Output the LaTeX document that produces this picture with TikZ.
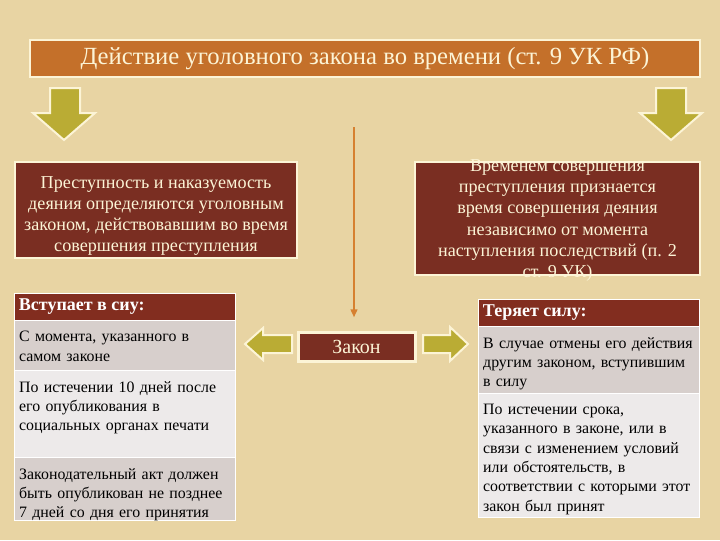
\documentclass[tikz,border=0pt]{standalone}
\usepackage{fontspec}
\setmainfont{Liberation Serif}
\usetikzlibrary{positioning,arrows.meta}

\definecolor{parchment}{RGB}{232,212,163}
\definecolor{titleorange}{RGB}{196,112,42}
\definecolor{darkred}{RGB}{122,46,34}
\definecolor{headred}{RGB}{130,45,31}
\definecolor{rowdark}{RGB}{215,207,204}
\definecolor{rowlight}{RGB}{237,234,234}
\definecolor{olive}{RGB}{186,172,52}
\definecolor{cream}{RGB}{252,244,214}
\definecolor{laworange}{RGB}{214,128,48}

\tikzset{every picture/.style={line width=0.75pt}}
\tikzset{
  titlebar/.style={draw=cream, line width=1.5pt, fill=titleorange, text=cream, outer sep=0pt,
    font=\fontsize{18.5}{21}\selectfont},
  redbox/.style={draw=cream, line width=2pt, fill=darkred, outer sep=0pt},
  boxtext/.style={text=cream, align=center, font=\fontsize{13.6}{15.9}\selectfont},
  fatarrow/.style={draw=cream, line width=1.5pt, fill=olive, line join=miter},
  headcell/.style={fill=headred, draw=white, line width=0.75pt, outer sep=0pt,
    minimum width=165.75pt, minimum height=20.25pt},
  darkcell/.style={fill=rowdark, draw=white, line width=0.75pt, outer sep=0pt, minimum width=165.75pt},
  lightcell/.style={fill=rowlight, draw=white, line width=0.75pt, outer sep=0pt, minimum width=165.75pt},
  headtext/.style={text=white, anchor=west, font=\bfseries\fontsize{13.5}{15}\selectfont},
  celltext/.style={anchor=north west, align=left, text width=162pt, inner xsep=3.5pt, inner ysep=8pt,
    font=\fontsize{11.9}{14.5}\selectfont},
  lawline/.style={draw=laworange, line width=1.5pt}
}

\begin{document}
\begin{tikzpicture}[x=0.75pt,y=0.75pt,yscale=-1]
%background
\path[fill=parchment] (0,0) rectangle (720,540);

%Title
\node[titlebar, minimum width=502.5pt, minimum height=27.75pt] (title) at (365,58.5)
  {Действие уголовного закона во времени (ст. 9 УК РФ)};

%Shape: down arrows
\draw[fatarrow] (50,88) -- (80,88) -- (80,113) -- (95,113) -- (64,140) -- (33,113) -- (50,113) -- cycle;
\draw[fatarrow] (656,88) -- (686,88) -- (686,113) -- (702,113) -- (671,140) -- (640,113) -- (656,113) -- cycle;

%Boxes under the arrows
\node[redbox, minimum width=211.5pt, minimum height=72pt] (crimebox) at (156,210) {};
\node[boxtext] (crimetext) at ([yshift=4.5pt]crimebox.center)
  {Преступность и наказуемость\\деяния определяются уголовным\\законом, действовавшим во время\\совершения преступления};

\node[redbox, minimum width=213.75pt, minimum height=84.75pt] (timebox) at (557.5,218.5) {};
\node[boxtext] (timetext) at ([yshift=1.5pt]timebox.center)
  {Временем совершения\\преступления признается\\время совершения деяния\\независимо от момента\\наступления последствий (п. 2\\ст. 9 УК)};

%Law
\node[redbox, line width=2.25pt, minimum width=87.75pt, minimum height=21.75pt, boxtext,
  font=\fontsize{15}{17}\selectfont] (law) at (356.5,346.5) {Закон};
\coordinate (lawtop) at (354,127);
\draw[lawline, -{Triangle[width=5pt,length=6pt]}, shorten >=11pt] (lawtop) -- (lawtop |- law.north);

%Shape: side arrows
\draw[fatarrow] (292,335) -- (263,335) -- (263,328) -- (245,344) -- (263,360) -- (263,353) -- (292,353) -- cycle;
\draw[fatarrow] (423,335) -- (450,335) -- (450,327) -- (468,344) -- (450,361) -- (450,353) -- (423,353) -- cycle;

%Table: enters into force
\node[headcell, anchor=north west] (inhead) at (14,293) {};
\node[headtext] (inheadtext) at (inhead.west) {Вступает в сиу:};
\node[darkcell, minimum height=37.5pt, below=0pt of inhead] (inrow1) {};
\node[lightcell, minimum height=65.25pt, below=0pt of inrow1] (inrow2) {};
\node[darkcell, minimum height=47.25pt, below=0pt of inrow2] (inrow3) {};
\node[celltext] (intext1) at (inrow1.north west) {С момента, указанного в\\самом законе};
\node[celltext] (intext2) at (inrow2.north west) {По истечении 10 дней после\\его опубликования в\\социальных органах печати};
\node[celltext] (intext3) at (inrow3.north west) {Законодательный акт должен\\быть опубликован не позднее\\7 дней со дня его принятия};

%Table: loses force
\node[headcell, anchor=north west] (outhead) at (478,299) {};
\node[headtext] (outheadtext) at (outhead.west) {Теряет силу:};
\node[darkcell, minimum height=50.25pt, below=0pt of outhead] (outrow1) {};
\node[lightcell, minimum height=93pt, below=0pt of outrow1] (outrow2) {};
\node[celltext] (outtext1) at (outrow1.north west) {В случае отмены его действия\\другим законом, вступившим\\в силу};
\node[celltext] (outtext2) at (outrow2.north west) {По истечении срока,\\указанного в законе, или в\\связи с изменением условий\\или обстоятельств, в\\соответствии с которыми этот\\закон был принят};

\end{tikzpicture}
\end{document}
